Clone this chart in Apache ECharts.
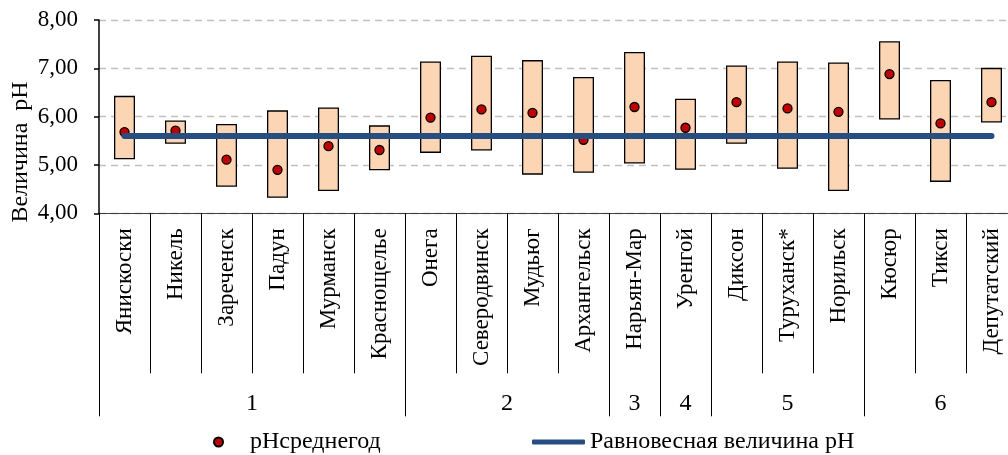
<!DOCTYPE html>
<html>
<head>
<meta charset="utf-8">
<script src="https://cdn.jsdelivr.net/npm/echarts@6/dist/echarts.min.js"></script>
<style>
html,body{margin:0;padding:0;background:#fff;}
#chart{width:1008px;height:455px;}
</style>
</head>
<body>
<div id="chart"></div>
<script>
// ---- data ----
const categories = ['Янискоски','Никель','Зареченск','Падун','Мурманск','Краснощелье','Онега','Северодвинск','Мудьюг','Архангельск','Нарьян-Мар','Уренгой','Диксон','Туруханск*','Норильск','Кюсюр','Тикси','Депутатский'];
const groupLabels = ['1','2','3','4','5','6'];
const groupSizes = [6,4,1,1,3,3];
const phMin  = [5.12,5.44,4.55,4.32,4.46,4.89,5.25,5.30,4.80,4.84,5.03,4.90,5.44,4.92,4.46,5.94,4.65,5.88];
const phMax  = [6.43,5.92,5.85,6.13,6.19,5.82,7.14,7.26,7.17,6.82,7.34,6.37,7.06,7.14,7.12,7.56,6.76,7.01];
const phMean = [5.68,5.71,5.11,4.90,5.39,5.31,5.98,6.15,6.08,5.52,6.20,5.77,6.30,6.17,6.10,6.88,5.86,6.30];
const phEquilibrium = [5.6,5.6,5.6,5.6,5.6,5.6,5.6,5.6,5.6,5.6,5.6,5.6,5.6,5.6,5.6,5.6,5.6,5.6];
const yTickLabels = ['4,00','5,00','6,00','7,00','8,00'];
const yTitle = 'Величина  рН';
const meanName = 'рНсреднегод';
const eqName = 'Равновесная величина рН';

// group boundaries / centres derived from group sizes
const groupBounds = [0];
groupSizes.forEach(s => groupBounds.push(groupBounds[groupBounds.length-1] + s));
const groupCenters = groupSizes.map((s,i) => groupBounds[i] + s/2);

const FONT = '"Liberation Serif", "Times New Roman", serif';

const chart = echarts.init(document.getElementById('chart'), null, {renderer:'canvas'});
chart.setOption({
  animation: false,
  backgroundColor: '#fff',
  grid: { left: 99, top: 20, width: 918, height: 193.3, containLabel: false, outerBoundsMode: 'none' },
  legend: [
    { left: 208, top: 425, itemWidth: 53, itemHeight: 9, itemGap: 5,
      data: [{name: meanName, icon: 'circle'}],
      textStyle: { fontFamily: FONT, fontSize: 24, color: '#000' } },
    { left: 527, top: 425, itemWidth: 53, itemHeight: 5, itemGap: 5,
      data: [{name: eqName, icon: 'roundRect'}],
      textStyle: { fontFamily: FONT, fontSize: 24, color: '#000' } }
  ],
  xAxis: [{
    type: 'category',
    data: categories,
    boundaryGap: true,
    axisLine: { show: true, lineStyle: { color: '#404040', width: 1 } },
    axisTick: { show: true, interval: 0, length: 160, lineStyle: { color: '#000', width: 1 } },
    axisLabel: { interval: 0, rotate: 90, margin: 15, fontFamily: FONT, fontSize: 23, color: '#000' },
    splitLine: { show: false }
  }, {
    type: 'value',
    position: 'bottom',
    min: 0, max: 18,
    axisLine: { show: false },
    splitLine: { show: false },
    axisTick: { show: true, customValues: groupBounds, length: 203, lineStyle: { color: '#000', width: 1 } },
    axisLabel: { show: true, customValues: groupCenters, margin: 178,
      formatter: v => groupLabels[groupCenters.indexOf(v)],
      fontFamily: FONT, fontSize: 24, color: '#000' }
  }],
  yAxis: {
    type: 'value',
    min: 4, max: 8, interval: 1,
    axisLine: { show: true, lineStyle: { color: '#000', width: 1.5 } },
    axisTick: { show: true, length: 5, inside: false, lineStyle: { color: '#000', width: 1.5 } },
    axisLabel: { margin: 21, fontFamily: FONT, fontSize: 23, color: '#000',
      formatter: v => yTickLabels[Math.round(v - 4)] },
    splitLine: { show: true, lineStyle: { color: '#bfbfbf', width: 1.3, type: [7, 5] } }
  },
  graphic: [{
    type: 'text', x: 21, y: 152, rotation: Math.PI/2,
    style: { text: yTitle, fill: '#000', font: '24px ' + FONT, align: 'center', verticalAlign: 'middle' }
  }],
  series: [{
    type: 'bar', name: 'base', stack: 'range', xAxisIndex: 0,
    data: phMin, barWidth: 21, silent: true,
    itemStyle: { color: 'rgba(0,0,0,0)', borderWidth: 0 },
    z: 2
  }, {
    type: 'bar', name: 'range', stack: 'range', xAxisIndex: 0,
    data: phMax.map((v,i) => +(v - phMin[i]).toFixed(3)), barWidth: 21, silent: true,
    itemStyle: { color: '#fcd5b5', borderColor: '#000', borderWidth: 1.3 },
    z: 2
  }, {
    type: 'scatter', name: meanName, xAxisIndex: 0,
    data: phMean, symbol: 'circle', symbolSize: 9,
    itemStyle: { color: '#c00000', borderColor: '#000', borderWidth: 1.3, opacity: 1 },
    z: 3
  }, {
    type: 'line', name: eqName, xAxisIndex: 0,
    data: phEquilibrium, showSymbol: false, symbol: 'none',
    lineStyle: { color: '#264e80', width: 6, cap: 'round' },
    itemStyle: { color: '#264e80' },
    z: 4
  }]
});
</script>
</body>
</html>
